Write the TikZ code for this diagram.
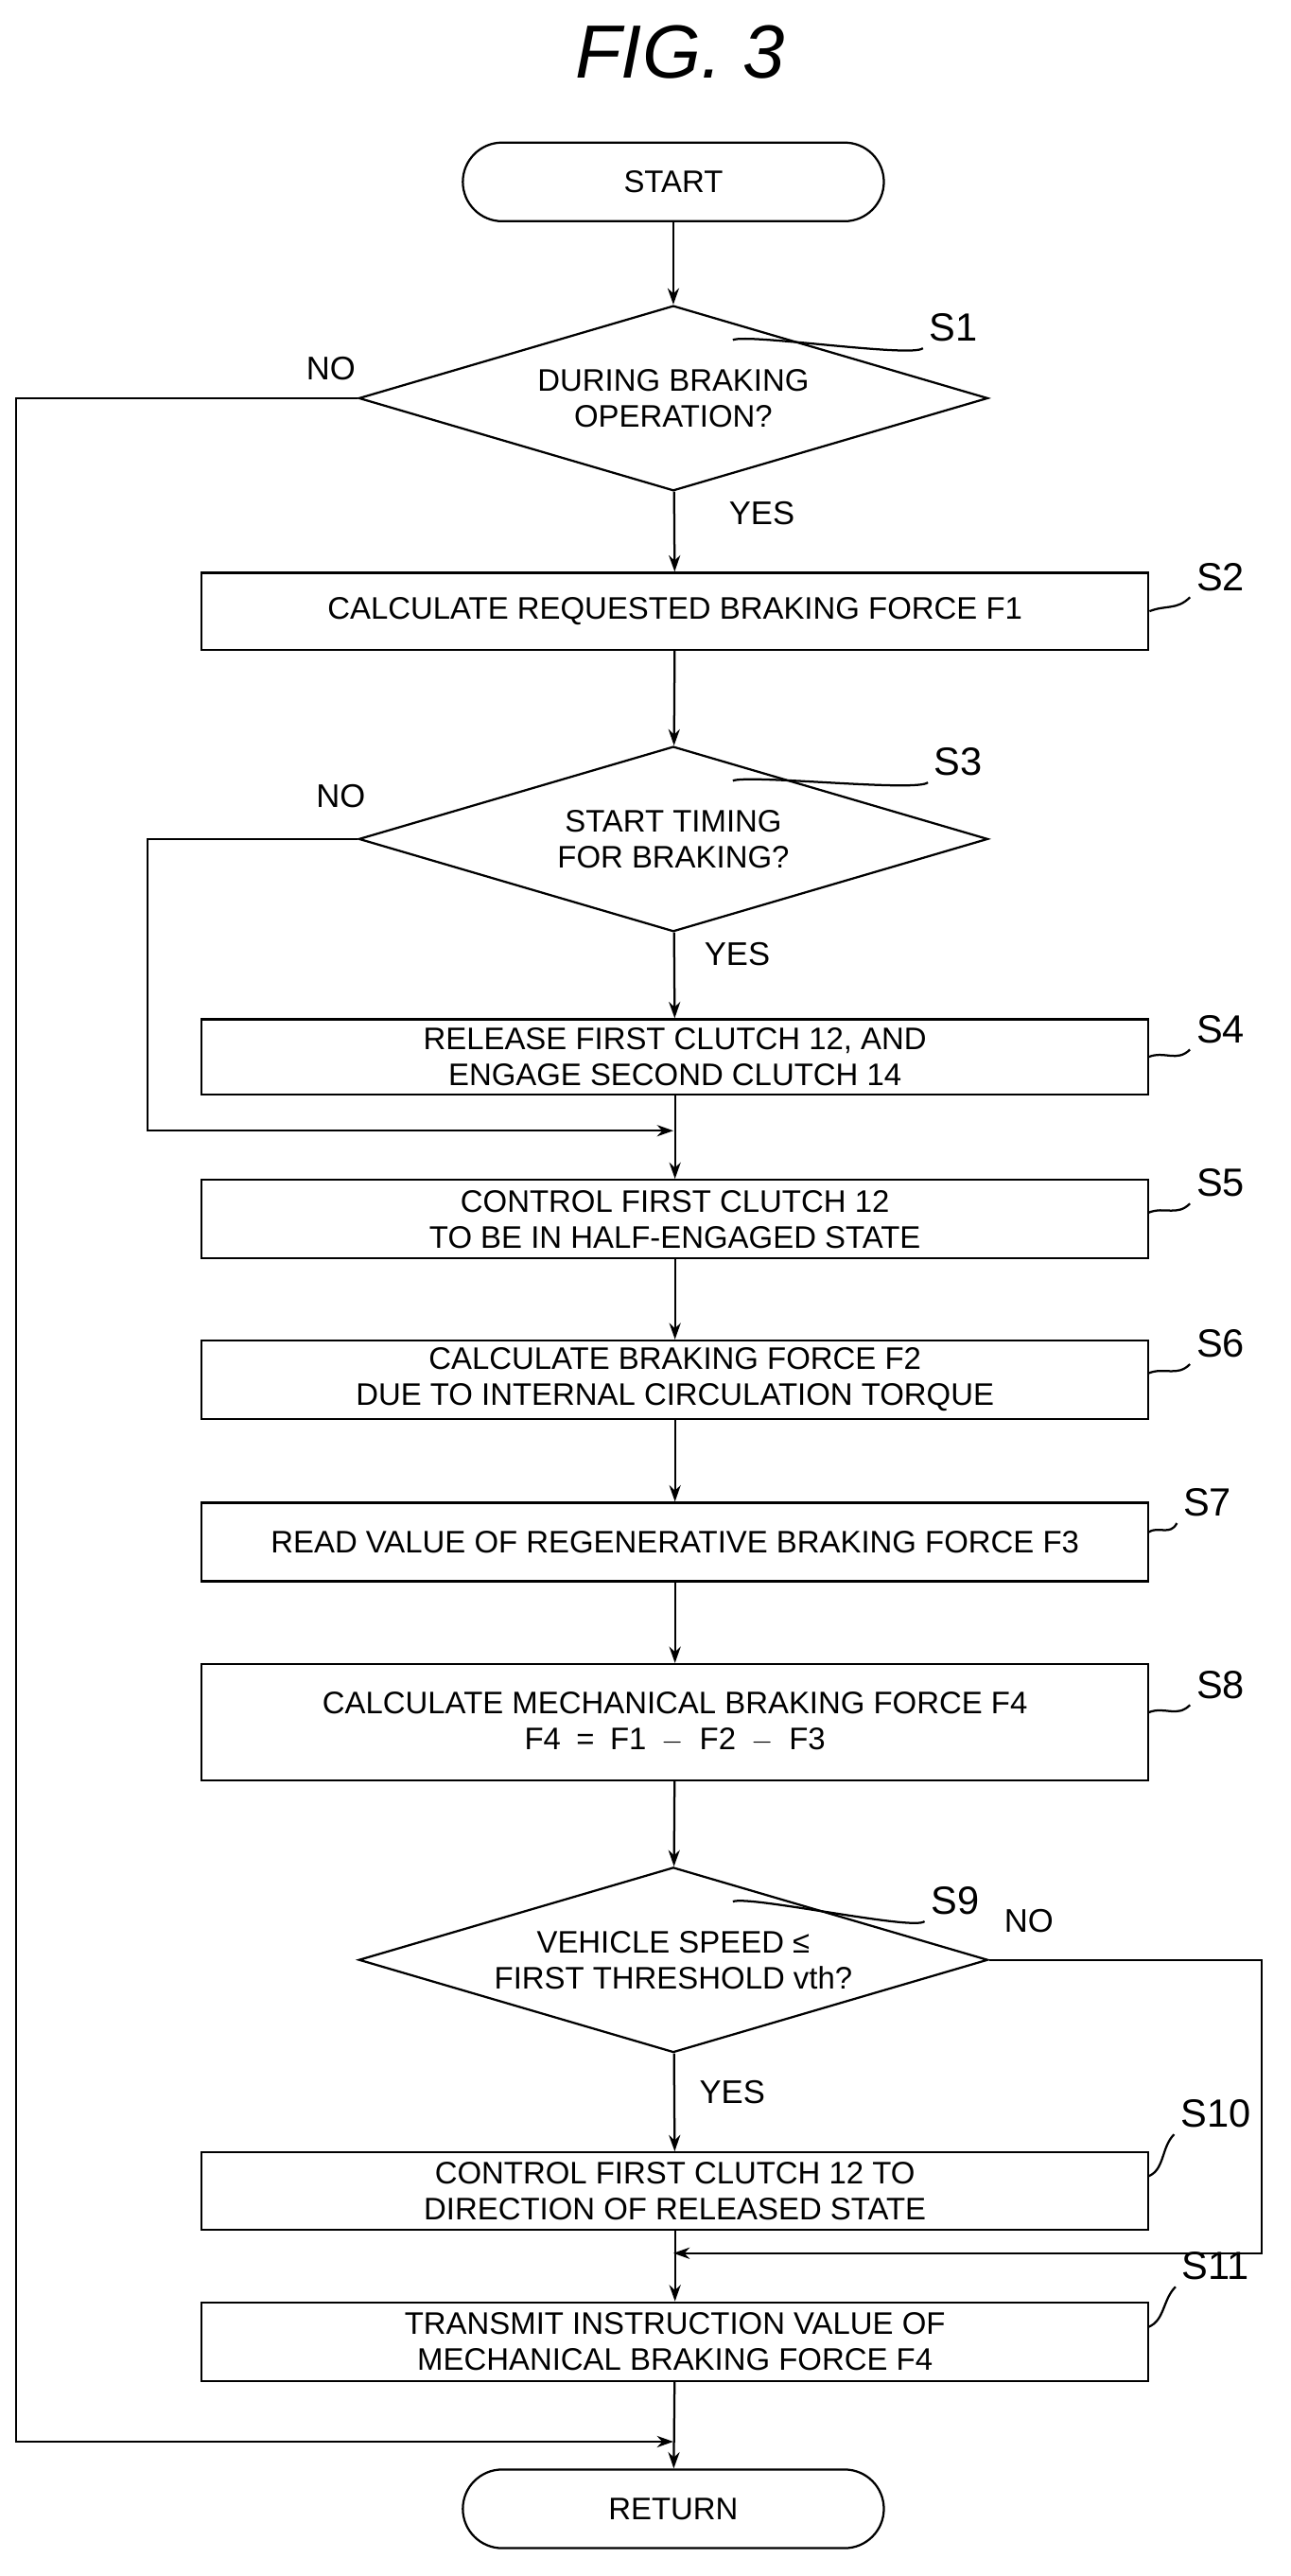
\documentclass[tikz,border=0pt]{standalone}
\usepackage{fontspec}
\setmainfont{Liberation Sans}
\usetikzlibrary{shapes.geometric,arrows.meta}
\begin{document}
\begin{tikzpicture}[x=1pt,y=-1pt,
  line width=1.3pt,
  font=\fontsize{19}{22}\selectfont,
  box/.style={draw,minimum width=578pt,align=center,inner sep=0pt},
  term/.style={draw,rounded corners=24pt,minimum width=257pt,minimum height=48pt},
  dia/.style={draw,diamond,aspect=3.4,minimum width=384pt,minimum height=113pt,inner sep=0pt,align=center},
  arr/.style={-{Stealth[length=10pt,width=7pt]}},
  lbl/.style={font=\fontsize{24}{26}\selectfont},
  yn/.style={font=\fontsize{20}{22}\selectfont}]
\useasboundingbox (0,0) rectangle (788,1572);
\node[font=\itshape\fontsize{46}{50}\selectfont] (title) at (415,32) {FIG. 3};
\node[term] (start) at (411,111) {START};
\node[dia] (s1) at (411,243) {DURING BRAKING\\OPERATION?};
\node[box,minimum height=47pt] (s2) at (412,373) {CALCULATE REQUESTED BRAKING FORCE F1};
\node[dia] (s3) at (411,512) {START TIMING\\FOR BRAKING?};
\node[box,minimum height=46pt] (s4) at (412,645) {RELEASE FIRST CLUTCH 12, AND\\ENGAGE SECOND CLUTCH 14};
\node[box,minimum height=48pt] (s5) at (412,744) {CONTROL FIRST CLUTCH 12\\TO BE IN HALF-ENGAGED STATE};
\node[box,minimum height=48pt] (s6) at (412,842) {CALCULATE BRAKING FORCE F2\\DUE TO INTERNAL CIRCULATION TORQUE};
\node[box,minimum height=48pt] (s7) at (412,941) {READ VALUE OF REGENERATIVE BRAKING FORCE F3};
\node[box,minimum height=71pt] (s8) at (412,1051) {CALCULATE MECHANICAL BRAKING FORCE F4\\F4\enspace=\enspace F1\enspace$-$\enspace F2\enspace$-$\enspace F3};
\node[dia] (s9) at (411,1196) {VEHICLE SPEED ≤\\FIRST THRESHOLD vth?};
\node[box,minimum height=47pt] (s10) at (412,1337) {CONTROL FIRST CLUTCH 12 TO\\DIRECTION OF RELEASED STATE};
\node[box,minimum height=48pt] (s11) at (412,1429) {TRANSMIT INSTRUCTION VALUE OF\\MECHANICAL BRAKING FORCE F4};
\node[term] (ret) at (411,1531) {RETURN};
% step labels
\node[lbl] (l1) at (582,200) {S1};
\node[lbl] (l2) at (745,352) {S2};
\node[lbl] (l3) at (585,465) {S3};
\node[lbl] (l4) at (745,628) {S4};
\node[lbl] (l5) at (745,722) {S5};
\node[lbl] (l6) at (745,820) {S6};
\node[lbl] (l7) at (737,917) {S7};
\node[lbl] (l8) at (745,1028) {S8};
\node[lbl] (l9) at (583,1160) {S9};
\node[lbl] (l10) at (742,1290) {S10};
\node[lbl] (l11) at (742,1383) {S11};
\draw (s1.north east) ++(-60,-7) .. controls +(10,-4) and +(-6,6) .. (l1.south west);
\draw (l2.south west) .. controls +(-8,8) and +(10,-4) .. (s2.north east |- 0,373);
\draw (s3.north east) ++(-60,-7) .. controls +(10,-4) and +(-6,6) .. (l3.south west);
\draw (l4.south west) .. controls +(-8,8) and +(10,-4) .. (701,645);
\draw (l5.south west) .. controls +(-8,8) and +(10,-4) .. (701,740);
\draw (l6.south west) .. controls +(-8,8) and +(10,-4) .. (701,838);
\draw (l7.south west) .. controls +(-4,8) and +(6,-4) .. (701,935);
\draw (l8.south west) .. controls +(-8,8) and +(10,-4) .. (701,1045);
\draw (s9.north east) ++(-60,-7) .. controls +(10,-4) and +(-6,6) .. (l9.south west);
\draw (l10.south west) .. controls +(-8,8) and +(10,-4) .. (701,1328);
\draw (l11.south west) .. controls +(-8,8) and +(10,-4) .. (701,1420);
% yes/no
\node[yn] (n1) at (202,225) {NO};
\node[yn] (y1) at (465,313) {YES};
\node[yn] (n3) at (208,486) {NO};
\node[yn] (y3) at (450,582) {YES};
\node[yn] (n9) at (628,1172) {NO};
\node[yn] (y9) at (447,1277) {YES};
% coordinates
\coordinate (j1) at (411,1490);
\coordinate (j3) at (411,690);
\coordinate (j9) at (411,1375);
% flow
\draw[arr] (start) -- (s1);
\draw[arr] (s1) -- (s2);
\draw[arr] (s2) -- (s3);
\draw[arr] (s3) -- (s4);
\draw[arr] (s4) -- (s5);
\draw[arr] (s5) -- (s6);
\draw[arr] (s6) -- (s7);
\draw[arr] (s7) -- (s8);
\draw[arr] (s8) -- (s9);
\draw[arr] (s9) -- (s10);
\draw[arr] (s10) -- (s11);
\draw[arr] (s11) -- (ret);
\draw[arr] (s1.west) -- (10,243) -- (10,1490) -- (j1);
\draw[arr] (s3.west) -- (90,512) -- (90,690) -- (j3);
\draw[arr] (s9.east) -- (770,1196) -- (770,1375) -- (j9);
\end{tikzpicture}
\end{document}
